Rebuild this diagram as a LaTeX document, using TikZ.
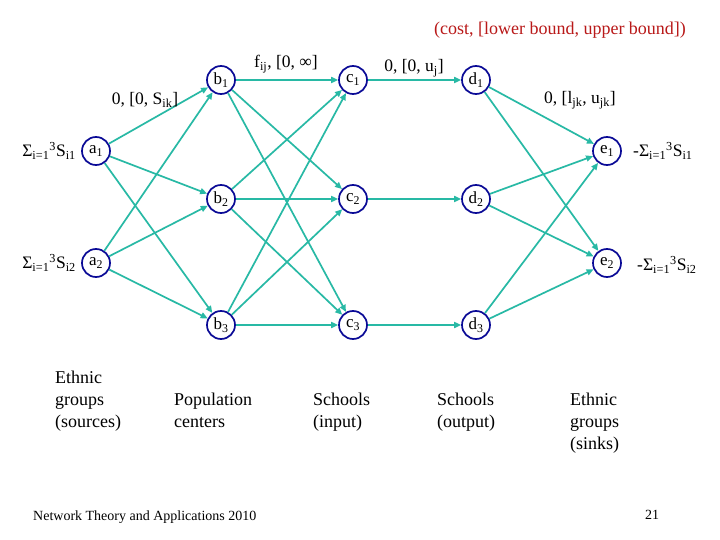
\documentclass[tikz,border=0pt]{standalone}
\usepackage{fontspec}
\setmainfont{Liberation Serif}
\usetikzlibrary{arrows.meta}
\definecolor{edgec}{RGB}{40,185,165}
\definecolor{nodec}{RGB}{10,10,150}
\definecolor{titlec}{RGB}{185,25,25}
\newcommand{\sbs}[1]{\textsubscript{#1}}
\newcommand{\sps}[1]{\textsuperscript{#1}}
\begin{document}
\begin{tikzpicture}[x=1pt,y=-1pt,
  vert/.style={circle,draw=nodec,line width=1.7pt,minimum size=28pt,inner sep=0pt,font=\fontsize{17}{17}\selectfont},
  arc/.style={draw=edgec,line width=1.7pt,-{Triangle[length=7pt,width=6pt]}},
  lbl/.style={inner sep=0pt,font=\fontsize{17.5}{20}\selectfont},
  col/.style={inner sep=0pt,anchor=north west,align=left,font=\fontsize{18}{22}\selectfont}]
\useasboundingbox (0,0) rectangle (720,540);
\fill[white] (0,0) rectangle (720,540);
% vertices
\node[vert] (a1) at (96,151) {a\sbs{1}};
\node[vert] (a2) at (96,263) {a\sbs{2}};
\node[vert] (b1) at (221,80) {b\sbs{1}};
\node[vert] (b2) at (221,199) {b\sbs{2}};
\node[vert] (b3) at (221,325) {b\sbs{3}};
\node[vert] (c1) at (353,80) {c\sbs{1}};
\node[vert] (c2) at (353,199) {c\sbs{2}};
\node[vert] (c3) at (353,325) {c\sbs{3}};
\node[vert] (d1) at (476,80) {d\sbs{1}};
\node[vert] (d2) at (476,199) {d\sbs{2}};
\node[vert] (d3) at (476,325) {d\sbs{3}};
\node[vert] (e1) at (607,151) {e\sbs{1}};
\node[vert] (e2) at (607,263) {e\sbs{2}};
% arcs
\foreach \i in {1,2}{\foreach \j in {1,2,3}{\draw[arc] (a\i) -- (b\j);}}
\foreach \i in {1,2,3}{\foreach \j in {1,2,3}{\draw[arc] (b\i) -- (c\j);}}
\foreach \i in {1,2,3}{\draw[arc] (c\i) -- (d\i);}
\foreach \i in {1,2,3}{\foreach \j in {1,2}{\draw[arc] (d\i) -- (e\j);}}
% labels
\node[lbl,text=titlec,font=\fontsize{18}{20}\selectfont] (title) at (560,30) {(cost, [lower bound, upper bound])};
\node[lbl] (lab) at (145,100) {0, [0, S\sbs{ik}]};
\node[lbl] (lbc) at (286,64) {f\sbs{ij}, [0, ∞]};
\node[lbl] (lcd) at (414,68) {0, [0, u\sbs{j}]};
\node[lbl] (lde) at (580,100) {0, [l\sbs{jk}, u\sbs{jk}]};
\node[lbl,anchor=east] (s1) at (76,151) {Σ\sbs{i=1}\sps{3}S\sbs{i1}};
\node[lbl,anchor=east] (s2) at (76,263) {Σ\sbs{i=1}\sps{3}S\sbs{i2}};
\node[lbl,anchor=west] (t1) at (633,151) {-Σ\sbs{i=1}\sps{3}S\sbs{i1}};
\node[lbl,anchor=west] (t2) at (637,265) {-Σ\sbs{i=1}\sps{3}S\sbs{i2}};
% column captions
\node[col] (ca) at (55,371) {Ethnic\\groups\\(sources)};
\node[col] (cb) at (174,393) {Population\\centers};
\node[col] (cc) at (313,393) {Schools\\(input)};
\node[col] (cd) at (437,393) {Schools\\(output)};
\node[col] (ce) at (570,393) {Ethnic\\groups\\(sinks)};
% footer
\node[inner sep=0pt,anchor=west,font=\fontsize{14}{14}\selectfont] (foot) at (33,517) {Network Theory and Applications 2010};
\node[inner sep=0pt,font=\fontsize{14}{14}\selectfont] (pg) at (652,515) {21};
\end{tikzpicture}
\end{document}
